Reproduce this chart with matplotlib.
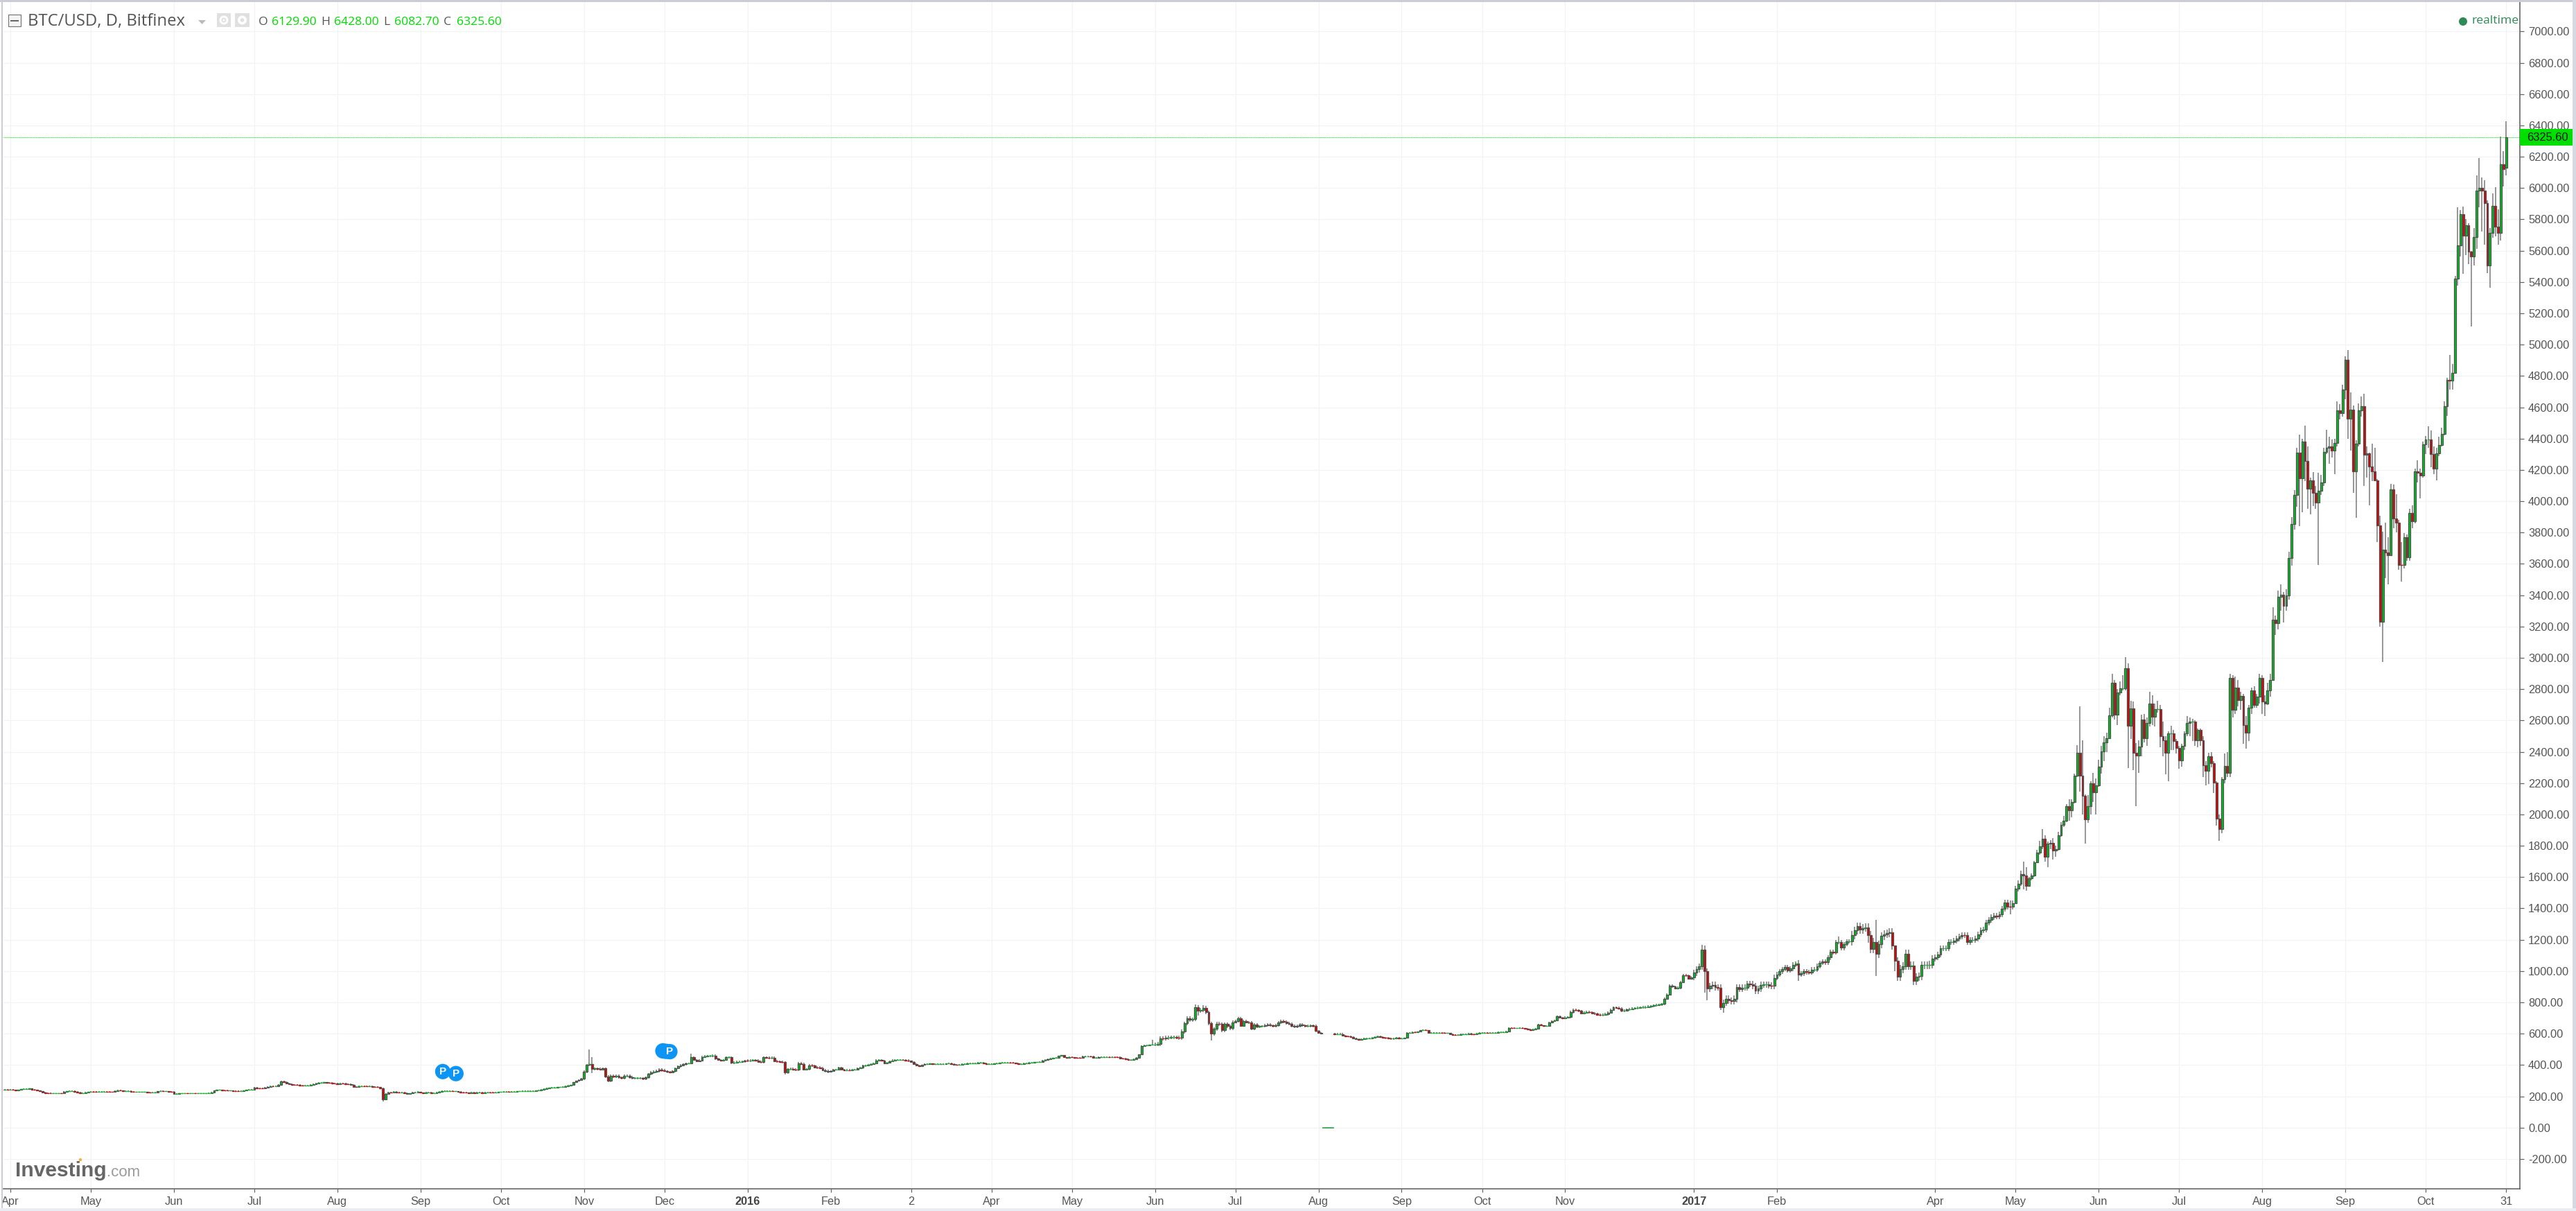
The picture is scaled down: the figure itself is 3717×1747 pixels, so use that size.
import numpy as np
import matplotlib
matplotlib.use("Agg")
import matplotlib.pyplot as plt
from matplotlib.patches import Rectangle, Circle, Polygon

# ---------------- data: daily closes, one list per tick period ----------------
lead_in = [241,242,240]
apr15 = [242,240,238,240,245,246,248,249,244,240,236,232,226,222,220,218,218,219,219,218,229,232,233,234,230,225,220,221,226,228]
may15 = [231,229,228,230,231,231,229,228,227,233,237,236,234,234,234,231,227,228,228,228,228,225,224,224,226,232,233,232,232,231,229]
jun15 = [217,217,218,218,219,218,219,219,218,219,219,219,219,221,224,236,240,240,239,238,236,236,235,233,232,233,236,240,243,244]
jul15 = [256,252,250,249,256,262,264,263,265,272,296,293,284,277,275,274,273,270,268,269,270,272,276,282,285,288,289,288,287,284,282]
aug15 = [278,282,281,279,278,272,262,258,263,266,265,264,264,262,261,258,253,178,216,226,225,228,226,224,226,222,214,218,224,226,228]
sep15 = [223,222,224,224,222,222,226,231,233,234,234,234,232,232,229,226,224,223,221,224,222,224,224,222,225,226,225,224,226,227]
oct15 = [228,229,230,229,230,231,232,232,234,234,234,235,235,236,238,243,248,252,254,256,256,258,259,262,265,268,272,290,298,305,314]
nov15 = [358,400,405,375,378,376,372,378,326,300,330,325,330,320,318,330,330,322,316,316,316,316,311,320,342,353,357,363,372,367]
dec15 = [362,356,354,360,380,392,398,404,410,410,449,432,424,430,452,456,457,458,460,440,432,430,432,448,450,414,416,420,420,422,428]
jan16 = [427,430,431,429,420,418,449,447,446,446,424,423,420,418,352,374,376,372,370,410,407,372,374,398,395,385,384,380,368,362,356]
feb16 = [362,370,372,383,372,368,368,367,370,372,378,382,395,398,402,406,410,430,433,428,412,414,425,430,432,432,433,432,430,426]
mar16 = [420,408,398,394,400,406,408,409,406,407,408,408,408,409,410,408,402,401,403,406,408,410,410,410,412,415,415,410,408,408]
apr16 = [408,409,410,413,415,416,416,415,413,410,408,408,410,412,414,416,418,418,420,428,432,438,441,444,446,458,462,448,447,450]
may16 = [448,447,446,444,453,455,455,454,444,445,451,451,452,452,450,452,451,450,442,440,436,432,432,436,444,466,522,525,526,528,532]
jun16 = [532,534,569,568,574,576,577,577,576,574,614,666,698,688,692,769,747,752,765,736,666,600,630,664,661,621,661,648,636,673]
jul16 = [680,698,651,680,673,672,631,658,644,648,648,654,660,652,648,655,672,680,676,668,662,650,644,650,658,652,648,650,652,650,617]
aug16 = [606,600,np.nan,np.nan,np.nan,np.nan,598,598,598,588,584,582,580,571,564,562,566,568,569,571,575,580,583,578,575,572,570,568,570,572,570]
sep16 = [570,572,606,607,610,609,612,621,624,622,604,606,606,607,607,606,604,604,598,593,592,594,596,597,598,600,598,597,602,606]
oct16 = [606,606,604,604,605,606,608,610,611,613,637,636,634,634,635,634,633,629,624,626,630,657,652,649,650,670,682,686,712,704,700]
nov_dec16 = [703,706,738,752,750,745,730,735,738,736,730,727,722,720,722,725,735,752,767,765,762,745,748,755,757,762,764,766,768,769,770,773,776,781,784,785,790,823,849,908,900,889,893,930,974,971,952,960]
jan17 = [989,1011,1029,1137,997,888,905,912,896,895,770,797,823,812,808,822,897,886,893,895,918,916,905,875,888,911,914,914,908,906,957]
feb17 = [978,997,1012,1024,1004,1015,1041,1046,978,985,997,994,990,1010,1010,1031,1052,1059,1056,1086,1123,1120,1185,1185,1149,1172,1189,1189]
mar17 = [1229,1259,1286,1263,1275,1278,1229,1141,1185,1108,1170,1223,1235,1241,1249,1163,1064,963,1012,1031,1111,1031,1034,935,963,967,1037,1037,1037,1040,1078]
apr17 = [1089,1104,1145,1145,1145,1185,1185,1194,1209,1219,1231,1230,1185,1200,1200,1209,1234,1262,1266,1308,1327,1345,1352,1350,1362,1396,1438,1411,1410,1431]

# May-Jul 2017: every candle's close, high, low
may_jul17_c = [1527,1555,1617,1610,1543,1594,1612,1694,1754,1794,1846,1728,1814,1820,1768,1779,1868,1935,1960,2053,2027,2080,2246,2394,2249,2120,1967,2053,2198,2142,2186,
               2305,2401,2460,2487,2633,2841,2638,2778,2805,2805,2934,2567,2675,2394,2374,2434,2608,2487,2582,2707,2623,2672,2672,2500,2475,2394,2519,2519,2468,
               2423,2345,2438,2519,2582,2593,2593,2475,2541,2475,2315,2280,2371,2327,2201,1972,1905,2225,2310,2265,2870,2670,2810,2730,2755,2570,2520,2680,2790,2700,2750,2870]
may_jul17_h = [1545,1580,1640,1698,1664,1600,1625,1705,1775,1830,1905,1865,1825,1835,1849,1800,1890,1950,1990,2065,2098,2095,2260,2442,2690,2475,2130,2125,2210,2263,2230,
               2350,2440,2500,2520,2680,2897,2860,2800,2850,2889,3003,2963,2727,2722,2456,2475,2638,2640,2620,2783,2763,2710,2724,2701,2593,2500,2530,2564,2540,
               2480,2440,2450,2530,2630,2620,2610,2600,2550,2550,2500,2340,2394,2400,2340,2210,2000,2240,2390,2400,2900,2890,2880,2860,2785,2770,2630,2700,2810,2820,2770,2900]
may_jul17_l = [1440,1510,1545,1520,1513,1540,1580,1600,1690,1745,1780,1700,1665,1780,1710,1730,1770,1860,1920,1950,1960,1980,2070,2240,2145,2000,1813,1945,2000,2080,2000,
               2175,2260,2340,2400,2480,2620,2608,2571,2760,2790,2790,2297,2480,2283,2053,2265,2370,2460,2440,2560,2570,2560,2650,2430,2371,2257,2212,2410,2410,
               2390,2293,2305,2410,2500,2500,2470,2440,2430,2440,2238,2186,2194,2300,2135,1930,1830,1880,2200,2240,2240,2620,2640,2690,2670,2450,2420,2470,2640,2680,2680,2710]
aug17_c = [2720,2710,2790,2860,3242,3220,3390,3401,3330,3397,3637,3856,4041,4310,4145,4381,4256,4082,4134,4055,3993,4068,4122,4315,4341,4350,4322,4372,4581,4562,4714]
aug17_h = [2890,2760,2840,2900,3323,3270,3431,3471,3420,3437,3678,3900,4070,4340,4426,4400,4485,4352,4150,4185,4100,4180,4170,4340,4458,4410,4396,4400,4637,4620,4744]
aug17_l = [2640,2630,2700,2750,2860,3146,3180,3300,3227,3301,3370,3590,3820,3967,3841,3930,4130,3952,3915,3970,3952,3592,4040,4100,4300,4241,4280,4174,4350,4522,4540]
sep17_c = [4902,4529,4586,4193,4370,4581,4606,4296,4307,4223,4193,4134,3844,3230,3689,3675,3656,4075,3888,3863,3594,3591,3770,3642,3923,3871,4193,4184,4164,4362]
sep17_h = [4924,4964,4697,4610,4390,4626,4670,4685,4350,4310,4370,4340,4140,3908,3804,3863,3772,4112,4105,4044,3880,3738,3797,3790,3950,3974,4210,4263,4210,4380]
sep17_l = [4650,4399,4322,4053,3893,4350,4540,4100,4152,3974,4130,4130,3740,3200,2975,3508,3471,3650,3830,3800,3560,3486,3570,3620,3620,3830,3860,4120,4019,4150]
oct17_c = [4393,4395,4301,4208,4304,4359,4429,4606,4774,4771,4821,5422,5635,5835,5696,5762,5595,5562,5688,5983,6002,5983,5906,5506,5713,5888,5755,5713,6154,6120,6325.6]
oct17_h = [4415,4477,4450,4352,4340,4414,4470,4640,4790,4936,4877,5440,5876,5858,5880,5802,5776,5600,5743,6083,6190,6068,6049,5920,5743,5968,6006,5864,6327,6234,6428]
oct17_l = [4300,4340,4219,4174,4134,4290,4350,4420,4544,4714,4714,4820,5377,5565,5451,5573,5514,5114,5506,5610,5879,5721,5639,5457,5366,5681,5690,5639,5666,6012,6082.7]

periods = [apr15,may15,jun15,jul15,aug15,sep15,oct15,nov15,dec15,jan16,feb16,mar16,apr16,may16,jun16,jul16,aug16,sep16,oct16,nov_dec16,jan17,feb17,mar17,apr17]
# typical wick beyond the body in each of those periods ($)
period_wick = [3,3,3,4,4,3,3,8,6,7,5,3,3,4,12,8,5,3,4,7,20,15,25,18]
# the bad ticks of Aug 2016 that print near zero
glitch_period = 16
glitch_bars = [2,3,4,5]
glitch_price = [0,0,0,0]
# notable wicks before May 2017: (period, bar, high, low); 0 = none
spikes = [(4,17,0,167),(7,2,500,0),(7,3,449,348),(8,10,474,0),(9,14,0,340),
          (14,15,787,0),(14,21,0,557),(14,18,780,0),(14,16,0,715),(13,30,562,0),
          (20,3,1167,0),(20,4,1165,861),(20,5,0,815),(20,10,0,753),(20,11,0,735),
          (21,8,1071,938),(21,23,1219,0),(22,9,1327,967),(22,6,0,1180),(22,16,1100,1000),(23,28,1450,1360)]

tick_labels = ["Apr","May","Jun","Jul","Aug","Sep","Oct","Nov","Dec","2016","Feb","2","Apr","May","Jun","Jul","Aug","Sep","Oct","Nov",
               "2017","Feb",None,"Apr","May","Jun","Jul","Aug","Sep","Oct","31"]
y_ticks = [-200,0,200,400,600,800,1000,1200,1400,1600,1800,2000,2200,2400,2600,2800,3000,3200,3400,3600,3800,4000,4200,4400,4600,4800,5000,5200,5400,5600,5800,6000,6200,6400,6600,6800,7000]
last_open, last_high, last_low, last_close = 6129.90, 6428.00, 6082.70, 6325.60
pivot_bars = [161.3,166.2,243.4,244.6,246.0]
pivot_price = [358,345,490,487,485]

# ---------------- assemble ----------------
late_c = may_jul17_c + aug17_c + sep17_c + oct17_c
late_h = may_jul17_h + aug17_h + sep17_h + oct17_h
late_l = may_jul17_l + aug17_l + sep17_l + oct17_l
lead = len(lead_in)
early = np.concatenate([np.array(lead_in, float)] + [np.array(p, float) for p in periods])
starts = np.cumsum([0] + [len(p) for p in periods])
closes = np.concatenate([early, np.array(late_c, float)])
n = len(closes)
x = np.arange(n) - lead
valid = ~np.isnan(closes)
opens = np.full(n, np.nan)
prev = closes[0] + 1.0
for i in range(n):
    opens[i] = prev
    if valid[i]:
        prev = closes[i]
opens[-1] = last_open
top = np.maximum(opens, closes); bot = np.minimum(opens, closes)
wick = np.concatenate([np.full(lead, 3.0)] + [np.full(len(p), w, float) for p, w in zip(periods, period_wick)])
highs = top.copy(); lows = bot.copy()
highs[:len(early)] += wick; lows[:len(early)] -= wick
highs[len(early):] = late_h; lows[len(early):] = late_l
for per, bar, hi, lo in spikes:
    if hi: highs[lead+starts[per]+bar] = hi
    if lo: lows[lead+starts[per]+bar] = lo

m17 = starts[-1]
tick_bars = list(starts[:-1]) + [m17, m17+31, m17+61, m17+92, m17+123, m17+153, m17+183]
pairs = [(b, l) for b, l in zip(tick_bars, tick_labels) if l is not None]

# ---------------- figure ----------------
W, H = 3717, 1747
plt.rcParams['font.family'] = ['Liberation Sans', 'DejaVu Sans']
fig = plt.figure(figsize=(W/100, H/100), dpi=100, facecolor='white')
L, R, T, B = 5, 3636, 3, 1714.7
ax = fig.add_axes([L/W, 1-B/H, (R-L)/W, (B-T)/H])
PX = 72/100
px_per_bar = 3.868
ax.set_xlim((L-15)/px_per_bar, (R-15)/px_per_bar)
ax.set_ylim((1626.7-B)/0.2259, (1626.7-T)/0.2259)
ax.set_facecolor('white')

ax.set_axisbelow(True)
ax.grid(True, color='#F2F3F4', lw=1.3*PX)
ax.set_yticks(y_ticks)
ax.set_yticklabels([f"{v:.2f}" for v in y_ticks])
ax.set_xticks([p[0] for p in pairs])
ax.set_xticklabels([p[1] for p in pairs])
ax.yaxis.tick_right()
for s in ['left', 'top']:
    ax.spines[s].set_visible(False)
for s in ['right', 'bottom']:
    ax.spines[s].set_color('#606060'); ax.spines[s].set_linewidth(1.6*PX)
ax.tick_params(axis='y', length=6*PX, width=1.2*PX, color='#606060', labelcolor='#555555', labelsize=11.8, pad=4.4)
ax.tick_params(axis='x', length=5*PX, width=1.2*PX, color='#606060', labelcolor='#555555', labelsize=11.8, pad=4.5)
for lab in ax.get_xticklabels():
    if lab.get_text() in ("2016", "2017"):
        lab.set_fontweight('bold'); lab.set_color('#444444')

ax.axhline(last_close, color='#33E033', lw=1.1*PX, ls=(0, (1.2, 0.8)), zorder=1.5)

# wicks
ax.vlines(x[valid], lows[valid], highs[valid], color='#767676', lw=1.5*PX, zorder=2)
# bodies
up = closes >= opens
GREEN, RED, EDGE = '#00C41E', '#E00000', '#505050'
bw = 0.74
ax.bar(x[valid & up], (top-bot)[valid & up], bottom=bot[valid & up], width=bw, color=GREEN, edgecolor=EDGE, linewidth=1.25*PX, zorder=3)
ax.bar(x[valid & ~up], (top-bot)[valid & ~up], bottom=bot[valid & ~up], width=bw, color=RED, edgecolor=EDGE, linewidth=1.25*PX, zorder=3)
# thin bodies still show their colour in the reference
thin = valid & ((top-bot) < 6)
ax.hlines(closes[thin & up], x[thin & up]-bw/2, x[thin & up]+bw/2, color=GREEN, lw=1.3*PX, zorder=3.5)
ax.hlines(closes[thin & ~up], x[thin & ~up]-bw/2, x[thin & ~up]+bw/2, color=RED, lw=1.3*PX, zorder=3.5)
# bad prints near zero
gx = starts[glitch_period] + np.array(glitch_bars)
ax.bar(gx, [3]*len(gx), bottom=glitch_price, width=1.0, color=GREEN, edgecolor='#3FA84F', linewidth=0.8*PX, zorder=3)

# pivot markers
ax.scatter(pivot_bars, pivot_price, s=255, color='#0C95F5', edgecolors='none', zorder=5, clip_on=False)
for bx, py in zip(pivot_bars, pivot_price):
    if bx not in (243.4, 244.6):
        ax.text(bx, py, "P", color='white', fontsize=11, fontweight='bold', ha='center', va='center', zorder=6)

def fx(px): return px/W
def fy(py): return 1-py/H
def frect(x0, y0, x1, y1, **kw):
    r = Rectangle((fx(x0), fy(y1)), (x1-x0)/W, (y1-y0)/H, transform=fig.transFigure, **kw)
    fig.add_artist(r); return r

# page frame
frect(0, 0, W, 2.5, color='#CACDD6', lw=0, zorder=4)
frect(1.5, 0, 3.5, H, color='#CACDD6', lw=0, zorder=4)
frect(3712, 0, W, H, color='#D6D9E1', lw=0, zorder=4)
frect(0, 1743, W, H, color='#E9EDF3', lw=0, zorder=4)

# price tag
frect(3636, 186, 3712, 210, color='#00E000', lw=0, zorder=5)
fig.text(fx(3646), fy(198.5), f"{last_close:.2f}", color='#111111', fontsize=11.8, ha='left', va='center', zorder=6)

# header
OS = ['Open Sans', 'DejaVu Sans']
fig.text(fx(40), fy(31), "BTC/USD, D, Bitfinex", family=OS, fontsize=17.2, color='#555555', ha='left', va='center', zorder=6)
frect(12, 21, 29.5, 38, facecolor='#F4F4F4', edgecolor='#777777', lw=1.2*PX, zorder=5)
frect(15, 29, 27, 30.5, color='#666666', lw=0, zorder=6)
fig.add_artist(Polygon([[fx(286), fy(29)], [fx(297), fy(29)], [fx(291.5), fy(35)]], closed=True, transform=fig.transFigure, color='#BBBBBB', lw=0, zorder=5))
frect(313, 19, 333, 39, color='#E0E0E0', lw=0, zorder=5)
frect(339, 19, 360, 39, color='#E0E0E0', lw=0, zorder=5)
for cx, rr, col in [(323, 6.5, 'white'), (323, 3.5, '#E0E0E0'), (323, 1.6, 'white'), (349.5, 6.5, 'white'), (349.5, 2.8, '#E0E0E0')]:
    fig.add_artist(Circle((cx, H-29), rr, transform=None, color=col, lw=0, zorder=6))
hdr = [(373, "O", '#555555'), (392, f"{last_open:.2f}", '#00DC00'), (463, "H", '#555555'), (482, f"{last_high:.2f}", '#00DC00'),
       (553, "L", '#555555'), (569, f"{last_low:.2f}", '#00DC00'), (640, "C", '#555555'), (658.5, f"{last_close:.2f}", '#00DC00')]
for px_, s, c in hdr:
    fig.text(fx(px_), fy(32), s, family=OS, fontsize=12.6, color=c, ha='left', va='center', zorder=6)

# realtime
fig.add_artist(Circle((3554, H-31), 6, transform=None, color='#2E8B57', lw=0, zorder=6))
fig.text(fx(3566), fy(29.5), "realtime", family=OS, fontsize=12.6, color='#2E8B57', ha='left', va='center', zorder=6)

# logo
fig.text(fx(22), fy(1697), "Investing", fontsize=21.6, fontweight='bold', color='#666666', ha='left', va='baseline', zorder=6)
fig.text(fx(154), fy(1697), ".com", fontsize=16, color='#9A9A9A', ha='left', va='baseline', zorder=6)
fig.add_artist(Circle((116, H-1673), 2.2, transform=None, color='#F5B042', lw=0, zorder=6))

fig.savefig("out.png", dpi=100, facecolor='white')
